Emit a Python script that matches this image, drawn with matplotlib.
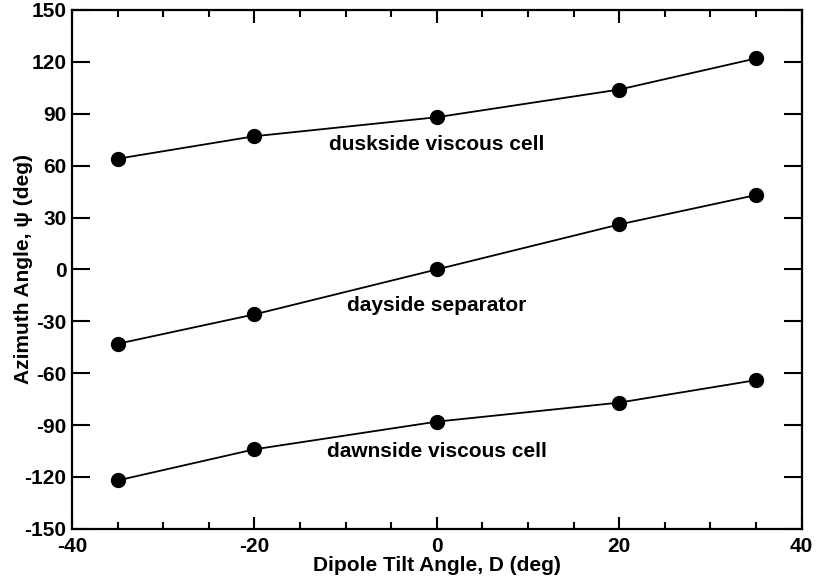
import numpy as np
import matplotlib.pyplot as plt
from matplotlib.ticker import MultipleLocator

plt.rcParams['font.family'] = ['Liberation Sans', 'DejaVu Sans']
plt.rcParams['font.weight'] = 'bold'
plt.rcParams['axes.unicode_minus'] = False

tilt = [-35, -20, 0, 20, 35]
dusk = [64, 77, 88, 104, 122]
day = [-43, -26, 0, 26, 43]
dawn = [-122, -104, -88, -77, -64]

labels = ['duskside viscous cell', 'dayside separator', 'dawnside viscous cell']
label_pos = [(0, 72), (0, -21), (0, -105)]

fig = plt.figure(figsize=(8.18, 5.87), dpi=100)
ax = fig.add_axes([0.088, 0.099, 0.892, 0.884])

for s in [dusk, day, dawn]:
    ax.plot(tilt, s, color='black', lw=1.3, marker='o', ms=10)

for txt, (x, y) in zip(labels, label_pos):
    ax.text(x, y, txt, ha='center', va='center', fontsize=15, fontweight='bold')

ax.set_xlim(-40, 40)
ax.set_ylim(-150, 150)
ax.xaxis.set_major_locator(MultipleLocator(20))
ax.xaxis.set_minor_locator(MultipleLocator(5))
ax.yaxis.set_major_locator(MultipleLocator(30))
ax.tick_params(which='both', direction='in', top=True, right=True, width=1.5,
               labelsize=15)
ax.tick_params(axis='x', which='major', length=9, pad=6)
ax.tick_params(axis='x', which='minor', length=5)
ax.tick_params(axis='y', which='major', length=13, pad=4)
for sp in ax.spines.values():
    sp.set_linewidth(1.6)

ax.set_xlabel('Dipole Tilt Angle, D (deg)', fontsize=15, fontweight='bold', labelpad=0)
ax.set_ylabel('Azimuth Angle, ψ (deg)', fontsize=15, fontweight='bold')
ax.yaxis.set_label_coords(-0.053, 0.5)

fig.savefig('out.png', dpi=100)
